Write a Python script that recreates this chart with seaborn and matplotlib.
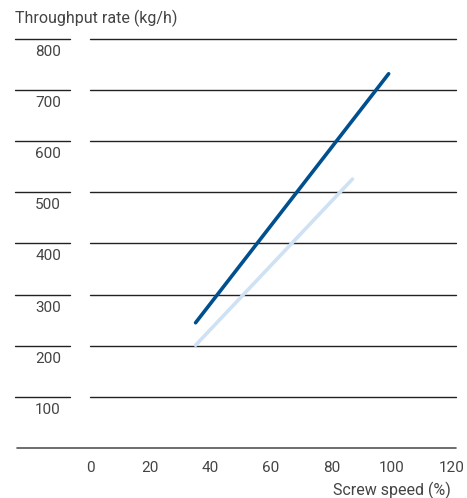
import matplotlib
matplotlib.use("Agg")
import matplotlib.pyplot as plt
import matplotlib.transforms as mtransforms
import pandas as pd
import seaborn as sns

# values
speed_high = [35, 99]
rate_high = [245, 732]
speed_low = [35, 87]
rate_low = [201, 526]
y_ticks = [0, 100, 200, 300, 400, 500, 600, 700, 800]
x_ticks = [0, 20, 40, 60, 80, 100, 120]

df = pd.concat([
    pd.DataFrame({"speed": speed_high, "rate": rate_high, "series": "high"}),
    pd.DataFrame({"speed": speed_low, "rate": rate_low, "series": "low"}),
])

sns.set_theme(style="white")
plt.rcParams["font.family"] = ["Roboto", "DejaVu Sans"]
text_color = "#444444"

fig = plt.figure(figsize=(4.67, 4.98), dpi=100)
ax = fig.add_axes([90 / 467, 50 / 498, 362 / 467, 409 / 498])

trans = mtransforms.blended_transform_factory(ax.transAxes, ax.transData)

# grid lines
for v in y_ticks[1:]:
    ax.axhline(v, color="#222222", lw=1.0, zorder=1, xmax=1.01, clip_on=False)
# baseline runs across the whole width
ax.plot([-73 / 362, 1.01], [0, 0], color="#555555", lw=1.2,
        transform=trans, clip_on=False)

sns.lineplot(
    data=df, x="speed", y="rate", hue="series",
    palette={"high": "#00508f", "low": "#cfe1f4"},
    hue_order=["low", "high"], linewidth=2.6, legend=False, ax=ax, zorder=3,
)

ax.set_xlim(0, 120)
ax.set_ylim(0, 800)
for s in ax.spines.values():
    s.set_visible(False)
ax.set_yticks([])
ax.set_xticks(x_ticks)
ax.set_xticklabels([str(t) for t in x_ticks], color=text_color, fontsize=11)
ax.tick_params(axis="x", length=0, pad=9)
ax.set_xlabel("")
ax.set_ylabel("")

# short segments and labels on the left
for v in y_ticks[1:]:
    ax.plot([-75 / 362, -20 / 362], [v, v], color="#222222", lw=1.0,
            transform=trans, clip_on=False)
    ax.annotate(str(v), xy=(-29 / 362, v), xycoords=trans,
                xytext=(0, -13), textcoords="offset pixels",
                ha="right", va="center", fontsize=11, color=text_color)

fig.text(15 / 467, 1 - 18 / 498, "Throughput rate (kg/h)", ha="left", va="center",
         fontsize=11.5, color=text_color)
fig.text(451 / 467, 1 - 490 / 498, "Screw speed (%)", ha="right", va="center",
         fontsize=11.5, color=text_color)

fig.savefig("out.png", dpi=100)
